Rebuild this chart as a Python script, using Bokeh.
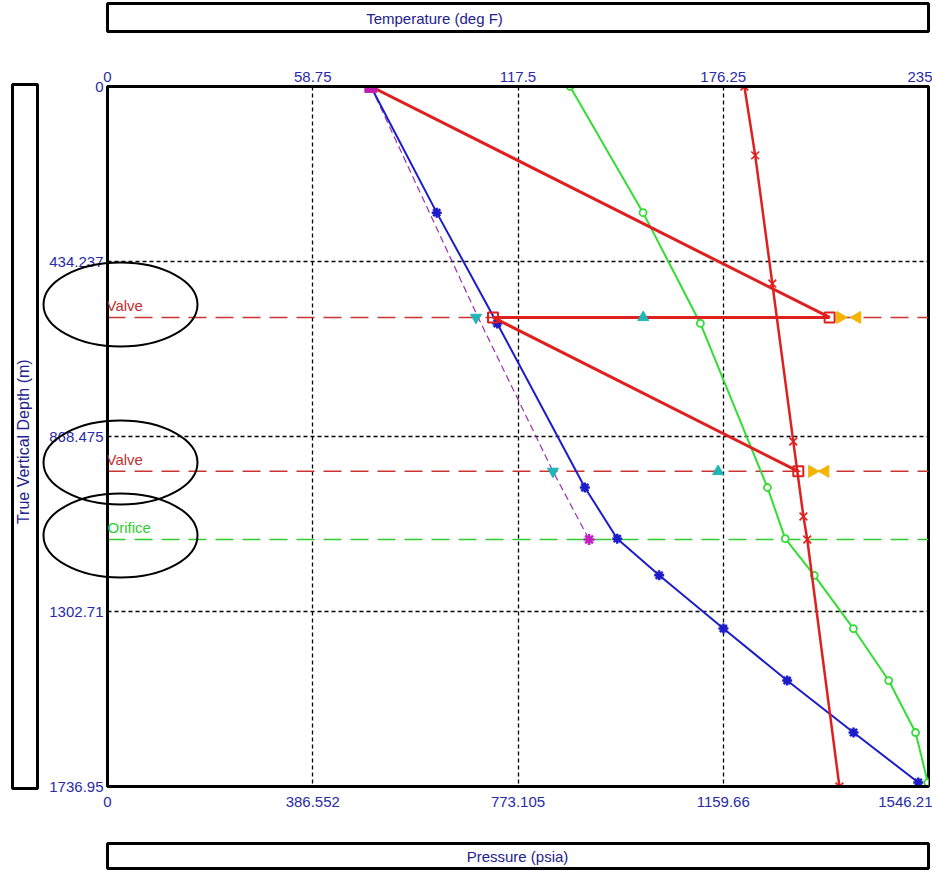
import numpy as np
from bokeh.plotting import figure
from bokeh.layouts import column
from bokeh.models import (Range1d, LinearAxis, FixedTicker, Span, Label,
                          CustomJSTickFormatter, GridBox)
from bokeh.core.properties import value
from bokeh.embed import file_html
from bokeh.resources import INLINE

# ---------------- axes ----------------
P_MAX = 1546.21
T_MAX = 235.0
D_MAX = 1736.95
p_ticks = [0, 386.5525, 773.105, 1159.6575, 1546.21]
p_tick_labels = ["0", "386.552", "773.105", "1159.66", "1546.21"]
t_ticks = [0, 58.75, 117.5, 176.25, 235.0]
t_tick_labels = ["0", "58.75", "117.5", "176.25", "235"]
d_ticks = [0, 434.2375, 868.475, 1302.7125, 1736.95]
d_tick_labels = ["0", "434.237", "868.475", "1302.71", "1736.95"]

# ---------------- data ----------------
valve_depths = [573, 955]
orifice_depth = 1124

node_depth = [0, 313, 588, 995, 1122, 1213, 1345, 1474, 1603, 1727]
tubing_pressure = [496, 620, 734, 899, 960, 1039, 1160, 1280, 1405, 1527]
fluid_temp = [132.4, 153.3, 169.7, 188.9, 194.0, 202.3, 213.5, 223.6, 231.3, 234.8]

casing_temp_depth = [0, 171, 489, 881, 1067, 1124, 1736.95]
casing_temp = [182.3, 185.4, 190.3, 196.3, 199.2, 200.3, 209.5]

gas_path_pressure = [496, 1360, 726, 1301]
gas_path_depth = [0, valve_depths[0], valve_depths[0], valve_depths[1]]

gradient_pressure = [496, 698, 839, 907]
gradient_depth = [0, valve_depths[0], valve_depths[1], orifice_depth]

valve_open_pressure = [1380, 1327]
valve_close_pressure = [1412, 1352]
valve_up_pressure = [1009, 1150]
valve_down_pressure = [694, 839]
surface_pressure = [496]
orifice_pressure = [907]

axis_titles = ["Temperature (deg F)", "Pressure (psia)", "True Vertical Depth  (m)"]

# ---------------- layout ----------------
W, H = 932, 871
FL, FR, FT, FB = 107, 928, 86, 786
FONT = "Liberation Sans"
TICK_BLUE = "#2a2aa8"
TITLE_BLUE = "#22228a"

p = figure(width=W, height=H, output_backend="svg", toolbar_location=None,
           x_range=Range1d(0, P_MAX), y_range=Range1d(D_MAX, 0),
           min_border_left=FL, min_border_right=W - FR,
           min_border_top=FT, min_border_bottom=H - FB,
           x_axis_location="below", y_axis_location="left")
p.extra_x_ranges = {"temp": Range1d(0, T_MAX)}
p.background_fill_color = "white"
p.border_fill_color = "white"
p.outline_line_color = "black"
p.outline_line_width = 3


def fmt(ticks, labels):
    return CustomJSTickFormatter(args=dict(tvals=ticks, tlabels=labels), code="""
        for (let i = 0; i < tvals.length; i++) {
            if (Math.abs(tvals[i] - tick) < 1e-6) { return tlabels[i]; }
        }
        return "";
    """)


bottom_axis = p.below[0]
left_axis = p.left[0]
top_axis = LinearAxis(x_range_name="temp")
p.add_layout(top_axis, "above")

for ax, ticks, labels in [(bottom_axis, p_ticks, p_tick_labels),
                          (left_axis, d_ticks, d_tick_labels),
                          (top_axis, t_ticks, t_tick_labels)]:
    ax.ticker = FixedTicker(ticks=ticks)
    ax.formatter = fmt(ticks, labels)
    ax.axis_line_width = 3
    ax.axis_line_color = "black"
    ax.major_tick_out = 0
    ax.major_tick_in = 0
    ax.minor_tick_line_color = None
    ax.major_label_text_color = TICK_BLUE
    ax.major_label_text_font = FONT
    ax.major_label_text_font_size = "15px"
bottom_axis.major_label_standoff = 10
top_axis.major_label_standoff = 5
left_axis.major_label_standoff = 4

p.xgrid.ticker = FixedTicker(ticks=p_ticks)
p.ygrid.ticker = FixedTicker(ticks=d_ticks)
for g in (p.xgrid, p.ygrid):
    g.grid_line_color = "black"
    g.grid_line_dash = "4 3"
    g.grid_line_width = 1.3

# valve / orifice depth lines
for d in valve_depths:
    p.add_layout(Span(location=d, dimension="width", line_color="#cc3333",
                      line_dash="18 9", line_width=1.5, level="underlay"))
p.add_layout(Span(location=orifice_depth, dimension="width", line_color="#33cc33",
                  line_dash="18 9", line_width=1.5, level="underlay"))
for d in valve_depths:
    p.add_layout(Label(x=0, y=d, text="Valve", text_color="#c03030", text_font=FONT,
                       text_font_size="15px", text_baseline="bottom", y_offset=3, x_offset=-1))
p.add_layout(Label(x=0, y=orifice_depth, text="Orifice", text_color="#33cc33", text_font=FONT,
                   text_font_size="15px", text_baseline="bottom", y_offset=3, x_offset=0))

# ---------------- series ----------------
p.line(gradient_pressure, gradient_depth, line_color="#9b30b0", line_width=1.2, line_dash="7 4")
p.line(tubing_pressure, node_depth, line_color="#1c1cc8", line_width=2)
p.scatter(tubing_pressure[1:], node_depth[1:], marker="asterisk", size=10,
          line_color="#1c1cc8", line_width=2.5)
p.line(fluid_temp, node_depth, x_range_name="temp", line_color="#33dd33", line_width=2)
p.scatter(fluid_temp, node_depth, x_range_name="temp", marker="circle", size=7,
          line_color="#33dd33", line_width=1.8, fill_color="white")
p.line(casing_temp, casing_temp_depth, x_range_name="temp", line_color="#e01f1f", line_width=2.5)
p.scatter(casing_temp, casing_temp_depth, x_range_name="temp", marker="x", size=11,
          line_color="#e01f1f", line_width=1.6)
p.line(gas_path_pressure, gas_path_depth, line_color="#e01f1f", line_width=3)
p.scatter(gas_path_pressure[1:], gas_path_depth[1:], marker="square", size=10,
          line_color="#e01f1f", line_width=2, fill_color=None)
p.scatter(surface_pressure, [0], marker="square", size=12, line_color="#c020b0",
          fill_color="#c020b0")
p.scatter(valve_up_pressure, valve_depths, marker="triangle", size=11,
          line_color="#22b5b5", fill_color="#22b5b5")
p.scatter(valve_down_pressure, valve_depths, marker="inverted_triangle", size=11,
          line_color="#22b5b5", fill_color="#22b5b5")
p.scatter(valve_open_pressure, valve_depths, marker="triangle", size=12, angle=-np.pi / 2,
          line_color="#f5b400", fill_color="#f5b400")
p.scatter(valve_close_pressure, valve_depths, marker="triangle", size=12, angle=np.pi / 2,
          line_color="#f5b400", fill_color="#f5b400")
p.scatter(orifice_pressure, [orifice_depth], marker="asterisk", size=11,
          line_color="#c020c0", line_width=2.5)

# ---------------- overlay: title boxes and ellipses (page-pixel frame) ----------------
ov = figure(width=W, height=H, output_backend="svg", toolbar_location=None,
            x_range=Range1d(0, W), y_range=Range1d(H, 0),
            min_border=0, min_border_left=0, min_border_right=0,
            min_border_top=0, min_border_bottom=0,
            x_axis_location=None, y_axis_location=None)
ov.background_fill_color = None
ov.border_fill_color = None
ov.outline_line_color = None
ov.xgrid.visible = False
ov.ygrid.visible = False

ov.quad(left=[FL, FL, 12], right=[FR, FR, 37], top=[3, 843, FT - 2], bottom=[31, 868, FB + 2],
        fill_color=None, line_color="black", line_width=3)
ov.ellipse(x=[120, 120, 120], y=[304, 462, 535], width=154, height=84,
           fill_color=None, line_color="black", line_width=2)
ov.text(x=[434, 517], y=[18, 856], text=axis_titles[:2], text_align="center",
        text_baseline="middle", text_font=value(FONT), text_font_size=value("15px"),
        text_color=TITLE_BLUE)
ov.text(x=[23], y=[439], text=axis_titles[2:], angle=np.pi / 2, text_align="center",
        text_baseline="middle", text_font=value(FONT), text_font_size=value("16px"),
        text_color=TITLE_BLUE)

layout = GridBox(children=[(column(p), 0, 0), (column(ov), 0, 0)])

open("out.html", "w").write(file_html(layout, INLINE))
